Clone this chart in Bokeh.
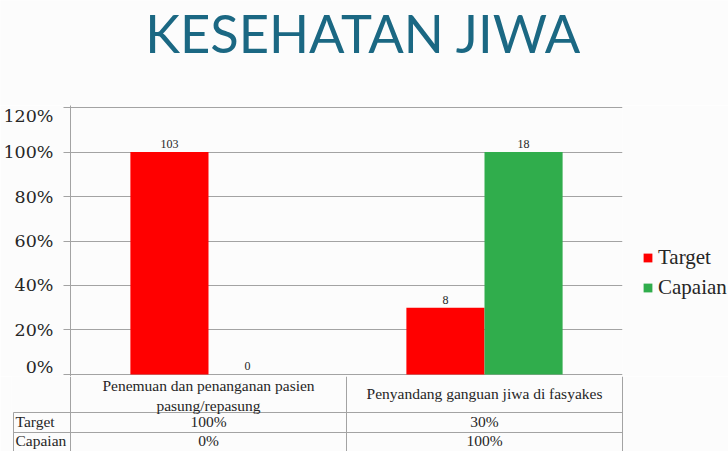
from bokeh.plotting import figure
from bokeh.models import (Range1d, FactorRange, FixedTicker, PrintfTickFormatter,
                          Legend, LegendItem, ColumnDataSource)
from bokeh.transform import dodge
from bokeh.layouts import column
from bokeh.embed import file_html
from bokeh.resources import INLINE
from bokeh.core.properties import value

# ---------------- data ----------------
title_text = "KESEHATAN JIWA"
categories = ["Penemuan dan penanganan pasien pasung/repasung",
              "Penyandang ganguan jiwa di fasyakes"]
header_lines = ["Penemuan dan penanganan pasien\npasung/repasung",
                "Penyandang ganguan jiwa di fasyakes"]
series_names = ["Target", "Capaian"]
target_pct = [100, 30]
capaian_pct = [0, 100]
target_counts = ["103", "8"]
capaian_counts = ["0", "18"]
y_ticks = [0, 20, 40, 60, 80, 100, 120]

# ---------------- style ----------------
W = 728
BG = "#fcfcfc"
GRID = "#a3a3a3"
TEXT = "#262626"
RED = "#ff0000"
GREEN = "#30ad4c"
SERIF = "Liberation Serif"
TICKFONT = "DejaVu Serif"

common = dict(output_backend="svg", toolbar_location=None, frame_align=False,
              background_fill_color=BG, border_fill_color=BG, outline_line_color=None)

# ---------------- title strip ----------------
t = figure(width=W, height=105, x_range=Range1d(0, W), y_range=Range1d(105, 0),
           x_axis_location=None, y_axis_location=None,
           min_border_left=0, min_border_right=0, min_border_top=0, min_border_bottom=0,
           **common)
t.grid.visible = False
t.text(x=[363], y=[32], text=[title_text], text_align="center", text_baseline="middle",
       text_font=value("Lato"), text_font_size="52.5px", text_color="#1b6883")

# ---------------- chart ----------------
src = ColumnDataSource(dict(cat=categories, target=target_pct, capaian=capaian_pct,
                            tlab=target_counts, clab=capaian_counts))

p = figure(frame_width=552, frame_height=271,
           x_range=FactorRange(factors=categories, range_padding=0),
           y_range=Range1d(-0.899, 120.899),
           min_border_left=70, min_border_right=106, min_border_top=0, min_border_bottom=0,
           **common)

bw = 0.283
off = bw / 2
r1 = p.vbar(x=dodge("cat", -off, range=p.x_range), top="target", width=bw,
            source=src, fill_color=RED, line_color=None)
r2 = p.vbar(x=dodge("cat", off, range=p.x_range), top="capaian", width=bw,
            source=src, fill_color=GREEN, line_color=None)

for xo, col, lab in [(-off, "target", "tlab"), (off, "capaian", "clab")]:
    p.text(x=dodge("cat", xo, range=p.x_range), y=col, text=lab, source=src,
           text_align="center", text_baseline="bottom", y_offset=-4,
           text_font=value(SERIF), text_font_size="12px", text_color=TEXT)

p.xaxis.visible = False
p.xgrid.visible = False
yax = p.yaxis[0]
yax.ticker = FixedTicker(ticks=y_ticks)
yax.formatter = PrintfTickFormatter(format="%d%%")
yax.axis_line_color = GRID
yax.major_tick_line_color = GRID
yax.major_tick_out = 7
yax.major_tick_in = 0
yax.minor_tick_line_color = None
yax.major_label_text_font = TICKFONT
yax.major_label_text_font_size = "17.5px"
yax.major_label_text_color = TEXT
yax.major_label_standoff = 10
p.ygrid[0].ticker = FixedTicker(ticks=y_ticks)
p.ygrid.grid_line_color = GRID

legend = Legend(items=[LegendItem(label=series_names[0], renderers=[r1]),
                       LegendItem(label=series_names[1], renderers=[r2])],
                location=(20, 76), orientation="vertical", padding=0, margin=0,
                spacing=5, glyph_width=11, glyph_height=11, label_height=24,
                label_standoff=5, label_text_font=SERIF, label_text_font_size="21px",
                label_text_color=TEXT, border_line_color=None, background_fill_alpha=0)
p.add_layout(legend, "right")

# ---------------- table ----------------
rl = -57 / 276
tb = figure(width=W, height=75,
            x_range=Range1d(rl - 2 / 276, 2 + 2 / 276), y_range=Range1d(75, 0),
            x_axis_location=None, y_axis_location=None,
            min_border_left=11, min_border_right=104, min_border_top=0, min_border_bottom=0,
            **common)
tb.grid.visible = False

n = len(categories)
tb.segment(x0=[rl] + list(range(n + 1)), y0=[36] + [0] * (n + 1),
           x1=[rl] + list(range(n + 1)), y1=[75] * (n + 2), line_color=GRID, line_width=1)
tb.segment(x0=[rl, rl], y0=[36, 56], x1=[n, n], y1=[36, 56], line_color=GRID, line_width=1)

centers = [i + 0.5 for i in range(n)]
tb.text(x=centers, y=[19, 17], text=header_lines, text_align="center", text_baseline="middle",
        text_font=value(SERIF), text_font_size="15.5px", text_color=TEXT)
row_y = [45, 64]
for yy, name, vals in zip(row_y, series_names, [target_pct, capaian_pct]):
    tb.text(x=[rl + 2 / 276], y=[yy], text=[name], text_align="left", text_baseline="middle",
            text_font=value(SERIF), text_font_size="15.5px", text_color=TEXT)
    tb.text(x=centers, y=[yy] * n, text=[f"{v}%" for v in vals], text_align="center",
            text_baseline="middle", text_font=value(SERIF), text_font_size="15.5px",
            text_color=TEXT)

layout = column(t, p, tb, spacing=0)
open("out.html", "w").write(file_html(layout, INLINE))
